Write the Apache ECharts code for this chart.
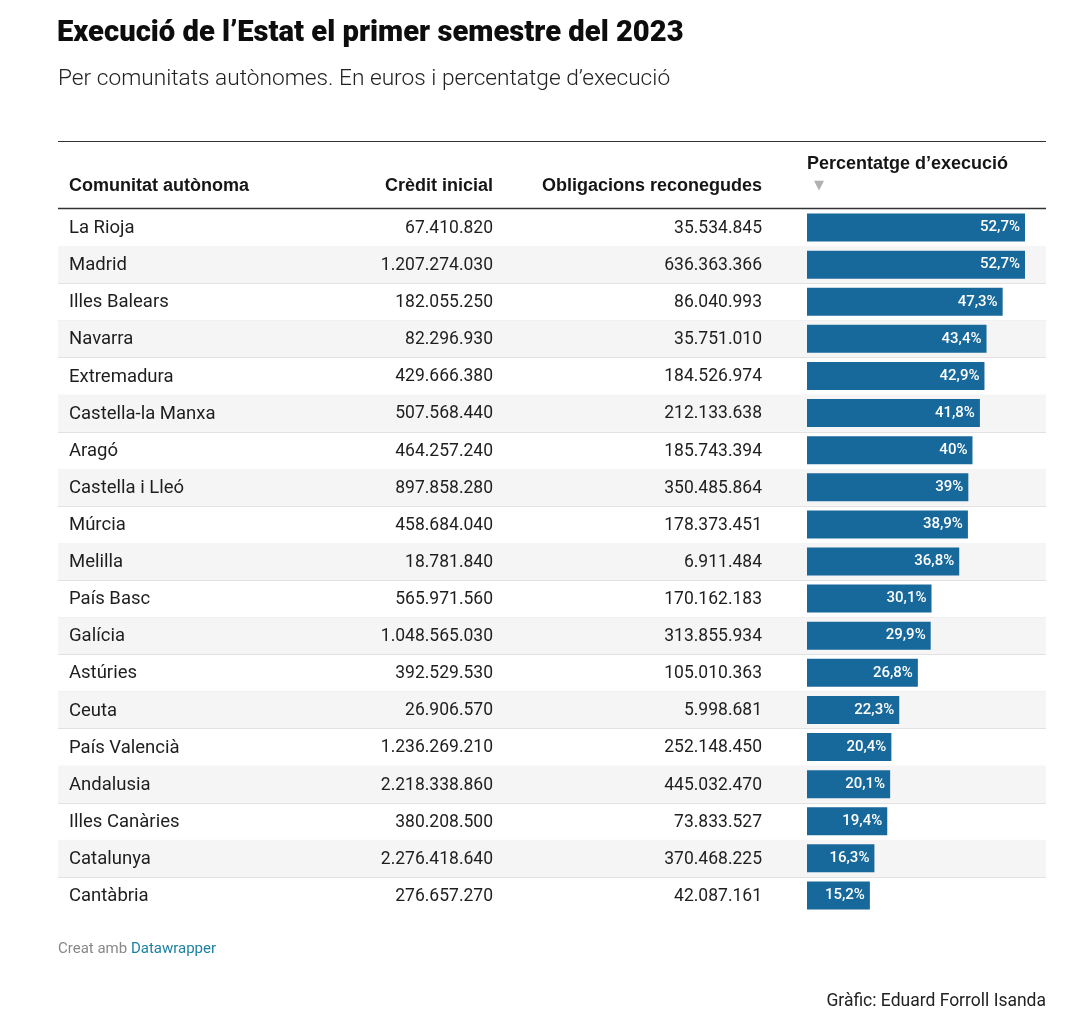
<!DOCTYPE html>
<html>
<head>
<meta charset="utf-8">
<script src="https://cdn.jsdelivr.net/npm/echarts@6/dist/echarts.min.js"></script>
<style>
html,body{margin:0;padding:0;background:#fff;}
#chart{width:1080px;height:1026px;}
</style>
</head>
<body>
<div id="chart"></div>
<script>
const titleText = 'Execució de l\u2019Estat el primer semestre del 2023';
const subtitleText = 'Per comunitats autònomes. En euros i percentatge d\u2019execució';
const columns = ['Comunitat autònoma', 'Crèdit inicial', 'Obligacions reconegudes', 'Percentatge d\u2019execució'];
const names = ['La Rioja','Madrid','Illes Balears','Navarra','Extremadura','Castella-la Manxa','Aragó','Castella i Lleó','Múrcia','Melilla','País Basc','Galícia','Astúries','Ceuta','País Valencià','Andalusia','Illes Canàries','Catalunya','Cantàbria'];
const credit = [67410820,1207274030,182055250,82296930,429666380,507568440,464257240,897858280,458684040,18781840,565971560,1048565030,392529530,26906570,1236269210,2218338860,380208500,2276418640,276657270];
const oblig = [35534845,636363366,86040993,35751010,184526974,212133638,185743394,350485864,178373451,6911484,170162183,313855934,105010363,5998681,252148450,445032470,73833527,370468225,42087161];
const pct = [52.7,52.7,47.3,43.4,42.9,41.8,40,39,38.9,36.8,30.1,29.9,26.8,22.3,20.4,20.1,19.4,16.3,15.2];
const footerLeft = 'Creat amb ';
const footerLink = 'Datawrapper';
const credits = 'Gràfic: Eduard Forroll Isanda';

function fmtInt(v){ return String(v).replace(/\B(?=(\d{3})+(?!\d))/g, '.'); }
function fmtPct(v){ return String(v).replace('.', ',') + '%'; }

const FONT = 'Roboto, "Noto Sans", sans-serif';
const HFONT = '"Liberation Sans", Arial, sans-serif';
const chart = echarts.init(document.getElementById('chart'), null, {renderer:'canvas'});

const TOP = 209, BOTTOM = 1026 - 914;

const option = {
  backgroundColor: '#fff',
  animation: false,
  grid: [
    {left: 58, right: 34, top: TOP, bottom: BOTTOM},
    {left: 807, right: 55, top: TOP, bottom: BOTTOM}
  ],
  xAxis: [
    {gridIndex: 0, type: 'value', min: 0, max: 1, show: false},
    {gridIndex: 1, type: 'value', min: 0, max: Math.max.apply(null, pct), show: false}
  ],
  yAxis: [
    {gridIndex: 0, type: 'category', data: names, inverse: true, show: false},
    {gridIndex: 1, type: 'category', data: names, inverse: true, show: false}
  ],
  graphic: [
    {type:'text', x: 57, y: 34, style:{text: titleText, font: '900 29.2px ' + FONT, fill:'#0d0d0d', textAlign:'left', textVerticalAlign:'middle'}},
    {type:'text', x: 58, y: 79, style:{text: subtitleText, font: '300 22.7px ' + FONT, fill:'#222', textAlign:'left', textVerticalAlign:'middle'}},
    {type:'line', shape:{x1:58, y1:141.5, x2:1046, y2:141.5}, style:{stroke:'#333', lineWidth:1}},
    {type:'line', shape:{x1:58, y1:208.5, x2:1046, y2:208.5}, style:{stroke:'#333', lineWidth:1.5}},
    {type:'text', x: 69, y: 186, style:{text: columns[0], font: 'bold 18px ' + HFONT, fill:'#151515', textAlign:'left', textVerticalAlign:'middle'}},
    {type:'text', x: 493, y: 186, style:{text: columns[1], font: 'bold 18px ' + HFONT, fill:'#151515', textAlign:'right', textVerticalAlign:'middle'}},
    {type:'text', x: 762, y: 186, style:{text: columns[2], font: 'bold 18px ' + HFONT, fill:'#151515', textAlign:'right', textVerticalAlign:'middle'}},
    {type:'text', x: 807, y: 164, style:{text: columns[3], font: 'bold 18px ' + HFONT, fill:'#151515', textAlign:'left', textVerticalAlign:'middle'}},
    {type:'text', x: 814, y: 186, style:{text: '▼', font: '13px "DejaVu Sans"', fill:'#b0b0b0', textAlign:'left', textVerticalAlign:'middle'}},
    {type:'text', x: 58, y: 949, style:{
      text: '{a|' + footerLeft + '}{b|' + footerLink + '}',
      textAlign:'left', textVerticalAlign:'middle',
      rich: {a:{font: '15px ' + FONT, fill:'#888'}, b:{font: '15px ' + FONT, fill:'#1d81a2'}}
    }},
    {type:'text', x: 1046, y: 1002, style:{text: credits, font: '17.5px ' + FONT, fill:'#222', textAlign:'right', textVerticalAlign:'middle'}}
  ],
  series: [
    {
      type: 'custom',
      xAxisIndex: 0, yAxisIndex: 0,
      z: 1,
      data: names.map((n, i) => [0, i]),
      renderItem: function(params, api){
        const i = params.dataIndex;
        const cs = params.coordSys;
        const yc = api.coord([0, i])[1];
        const h = api.size([0, 1])[1];
        const children = [];
        if (i % 2 === 1) {
          children.push({type:'rect', shape:{x: cs.x, y: yc - h/2, width: cs.width, height: h}, style:{fill:'#f5f5f5'}});
        }
        if (i < names.length - 1) {
          children.push({type:'line', shape:{x1: cs.x, y1: Math.round(yc + h/2) + 0.5, x2: cs.x + cs.width, y2: Math.round(yc + h/2) + 0.5}, style:{stroke:'#e2e2e2', lineWidth:1}});
        }
        children.push({type:'text', x: cs.x + 11, y: yc + 1, style:{text: names[i], font: '18.5px ' + FONT, fill:'#1e1e1e', textAlign:'left', textVerticalAlign:'middle'}});
        children.push({type:'text', x: cs.x + 435, y: yc + 1, style:{text: fmtInt(credit[i]), font: '17.5px ' + FONT, fill:'#1e1e1e', textAlign:'right', textVerticalAlign:'middle'}});
        children.push({type:'text', x: cs.x + 704, y: yc + 1, style:{text: fmtInt(oblig[i]), font: '17.5px ' + FONT, fill:'#1e1e1e', textAlign:'right', textVerticalAlign:'middle'}});
        return {type:'group', children: children};
      }
    },
    {
      type: 'bar',
      xAxisIndex: 1, yAxisIndex: 1,
      z: 3,
      data: pct,
      barWidth: 28,
      itemStyle: {color: '#18699b'},
      label: {
        show: true, position: 'insideRight', distance: 5,
        color: '#fff', fontSize: 15, fontWeight: 500, fontFamily: FONT,
        formatter: p => fmtPct(p.value)
      }
    }
  ]
};
chart.setOption(option);
</script>
</body>
</html>
